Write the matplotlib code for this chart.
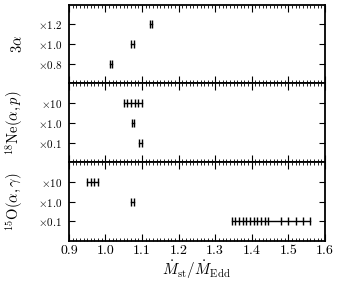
import numpy as np
import matplotlib
matplotlib.use('Agg')
import matplotlib.pyplot as plt
from matplotlib.ticker import MultipleLocator, FormatStrFormatter

plt.rcParams['mathtext.fontset'] = 'cm'
plt.rcParams['font.family'] = ['cmr10', 'DejaVu Serif']
plt.rcParams['axes.formatter.use_mathtext'] = True

# rate multipliers (tick labels) per panel, bottom to top
tri_alpha_labels = [r'$\times$0.8', r'$\times$1.0', r'$\times$1.2']
tri_alpha_runs = [
    [1.012, 1.019],
    [1.071, 1.078],
    [1.121, 1.128],
]

ne18_labels = [r'$\times$0.1', r'$\times$1.0', r'$\times$10']
ne18_runs = [
    [1.093, 1.100],
    [1.072, 1.079],
    [1.05, 1.06, 1.07, 1.08, 1.09, 1.10],
]

o15_labels = [r'$\times$0.1', r'$\times$1.0', r'$\times$10']
o15_runs = [
    [1.345, 1.355, 1.365, 1.375, 1.385, 1.395, 1.405, 1.415, 1.425, 1.435, 1.445,
     1.48, 1.50, 1.52, 1.54, 1.56],
    [1.071, 1.078],
    [0.95, 0.96, 0.97, 0.98],
]

panels = [
    (r'3$\alpha$', tri_alpha_labels, tri_alpha_runs),
    (r'$^{18}$Ne$(\alpha,p)$', ne18_labels, ne18_runs),
    (r'$^{15}$O$(\alpha,\gamma)$', o15_labels, o15_runs),
]

fig, axes = plt.subplots(3, 1, figsize=(3.41, 2.85), dpi=100, sharex=True)
fig.subplots_adjust(left=0.202, right=0.953, top=0.984, bottom=0.154, hspace=0)

for ax, (name, labels, runs) in zip(axes, panels):
    for i, xs in enumerate(runs):
        ys = np.full(len(xs), i + 1)
        ax.plot(xs, ys, color='black', lw=1.0, marker='|', markersize=5.5,
                markeredgewidth=1.0)
    ax.set_ylim(0, 4)
    ax.set_yticks([1, 2, 3])
    ax.set_yticklabels(labels, fontsize=8)
    ax.set_ylabel(name, fontsize=10.5)
    ax.yaxis.set_label_coords(-0.17, 0.5)
    ax.set_xlim(0.9, 1.6)
    ax.xaxis.set_major_locator(MultipleLocator(0.1))
    ax.xaxis.set_minor_locator(MultipleLocator(0.01))
    ax.xaxis.set_major_formatter(FormatStrFormatter('%.1f'))
    ax.tick_params(axis='x', which='both', direction='in', top=True, bottom=True)
    ax.tick_params(axis='x', which='major', length=5, width=0.8)
    ax.tick_params(axis='x', which='minor', length=2.5, width=0.6)
    ax.tick_params(axis='y', which='major', direction='in', left=True, right=True,
                   length=4, width=0.8, pad=5)
    for sp in ax.spines.values():
        sp.set_linewidth(1.3)

axes[-1].tick_params(axis='x', labelsize=10, pad=3)
axes[-1].set_xlabel(r'$\dot{M}_{\rm st}/\dot{M}_{\rm Edd}$', fontsize=11, labelpad=1)

fig.savefig('out.png', dpi=100)
